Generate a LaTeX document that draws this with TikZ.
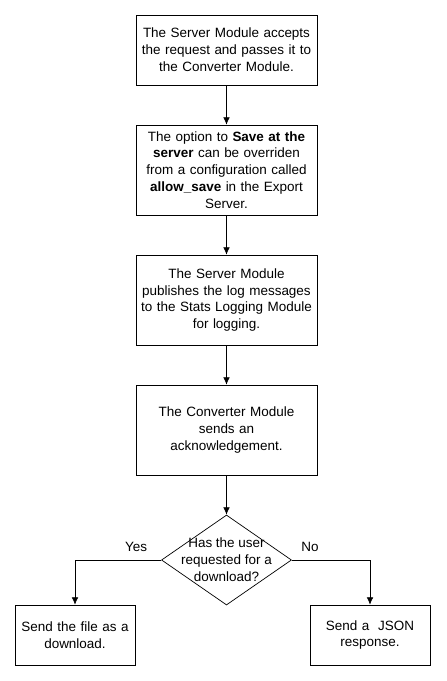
\documentclass[tikz,border=0pt]{standalone}
\usepackage{fontspec}
\setmainfont{Liberation Sans}
\usetikzlibrary{shapes.geometric,arrows.meta}
\tikzset{
	box/.style={draw, line width=0.6pt, minimum width=5.43cm, minimum height=2.7cm, text width=5.4cm, align=center, inner sep=0pt, font=\fontsize{11.5}{14.4}\selectfont},
	endbox/.style={box, minimum width=3.6cm, minimum height=1.8cm, text width=3.5cm},
	decision/.style={draw, diamond, line width=0.6pt, minimum width=3.9cm, minimum height=2.7cm, inner sep=0pt},
	flow/.style={-{Latex[length=2.2mm,width=2mm]}, line width=0.6pt}
}
\begin{document}
\begin{tikzpicture}[x=0.03cm, y=-0.03cm]
		%%%%% START %%%%%
		
		\useasboundingbox[fill=white] (0, 0) rectangle (446, 681);
		
		\node[box, minimum height=2.1cm] (accept) at (226.5, 50) {The Server Module accepts\\the request and passes it to\\the Converter Module.};
		\node[box] (option) at (226.5, 170) {The option to \textbf{Save at the}\\\textbf{server} can be overriden\\from a configuration called\\\textbf{allow\_save} in the Export\\Server.};
		\node[box] (publish) at (226.5, 300) {The Server Module\\publishes the log messages\\to the Stats Logging Module\\for logging.};
		\node[box] (ack) at (226.5, 430) {The Converter Module\\sends an\\acknowledgement.};
		
		\node[decision] (ask) at (226.5, 560) {};
		\node[align=center, font=\fontsize{11.5}{14.4}\selectfont] (asktext) at (ask) {Has the user\\requested for a\\download?};
		
		\node[endbox] (file) at (75, 635) {Send the file as a\\download.};
		\node[endbox] (json) at (370, 635) {Send a\ \ JSON\\response.};
		
		\draw[flow] (accept) -- (option);
		\draw[flow] (option) -- (publish);
		\draw[flow] (publish) -- (ack);
		\draw[flow] (ack) -- (ask);
		
		\draw[flow] (ask.west) -| (file.north);
		\draw[flow] (ask.east) -| (json.north);
		
		\node[font=\fontsize{11.5}{14.4}\selectfont] (yes) at (136, 547) {Yes};
		\node[font=\fontsize{11.5}{14.4}\selectfont] (no) at (310, 547) {No};
		
		%%%%% END %%%%%
	\end{tikzpicture}
\end{document}
